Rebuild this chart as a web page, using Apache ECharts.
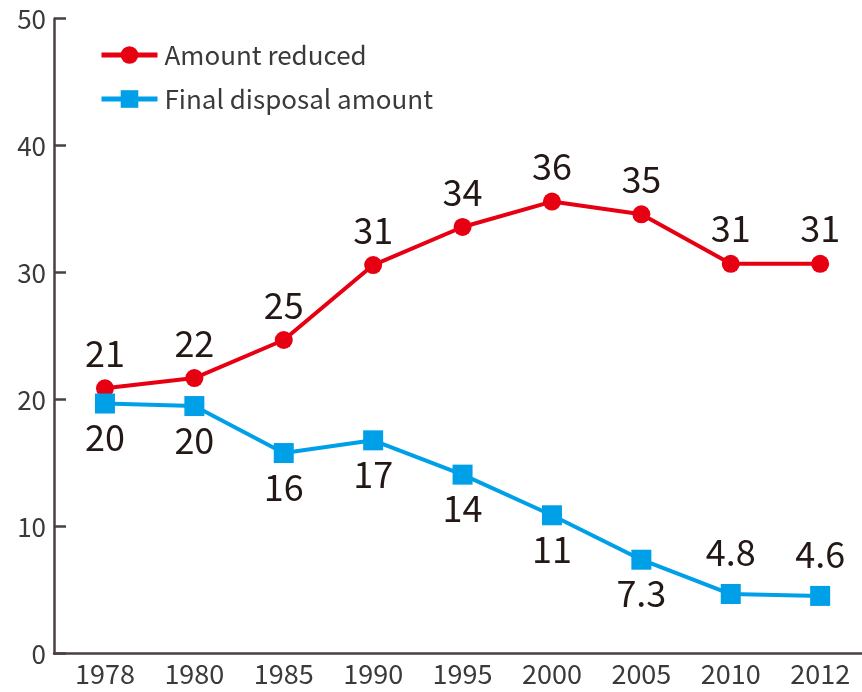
<!DOCTYPE html>
<html><head><meta charset="utf-8">
<script src="https://cdn.jsdelivr.net/npm/echarts@6/dist/echarts.min.js"></script>
<style>html,body{margin:0;padding:0;background:#fff}#c{width:862px;height:692px}</style>
</head><body><div id="c"></div>
<script>
var years = ['1978','1980','1985','1990','1995','2000','2005','2010','2012'];
var reducedValues = [20.9, 21.7, 24.7, 30.6, 33.6, 35.6, 34.6, 30.7, 30.7];
var reducedLabels = ['21','22','25','31','34','36','35','31','31'];
var disposalValues = [19.7, 19.5, 15.8, 16.8, 14.1, 10.9, 7.4, 4.7, 4.55];
var disposalLabels = ['20','20','16','17','14','11','7.3','4.8','4.6'];
var disposalLabelPos = ['bottom','bottom','bottom','bottom','bottom','bottom','bottom','top','top'];
var yTicks = [0, 10, 20, 30, 40, 50];

var FONT = '"Noto Sans CJK JP","Noto Sans",sans-serif';
var RED = '#e60012', BLUE = '#00a0e9', AXIS = '#4a4040';

var chart = echarts.init(document.getElementById('c'), null, {renderer: 'canvas'});
chart.setOption({
  animation: false,
  backgroundColor: '#fff',
  grid: {left: 54, right: 0, top: 18.7, bottom: 38.3, containLabel: false},
  legend: {
    orient: 'vertical', left: 94, top: 37, itemWidth: 56, itemHeight: 22, itemGap: 18,
    lineStyle: {width: 5},
    textStyle: {fontFamily: FONT, fontSize: 26, color: '#3a3a3a', padding: [0,0,0,2]},
    data: ['Amount reduced', 'Final disposal amount']
  },
  xAxis: {
    type: 'value', min: -0.570, max: 8.468,
    axisLine: {show: true, onZero: false, lineStyle: {color: AXIS, width: 2.5}},
    axisTick: {show: false}, splitLine: {show: false},
    axisLabel: {
      customValues: years.map(function(_, i){ return i; }),
      formatter: function(v){ return years[Math.round(v)]; },
      fontFamily: FONT, fontSize: 27, color: '#3a3a3a', margin: 7
    }
  },
  yAxis: {
    type: 'value', min: yTicks[0], max: yTicks[yTicks.length-1], interval: 10,
    axisLine: {show: true, onZero: false, lineStyle: {color: AXIS, width: 2.5}},
    axisTick: {show: true, inside: true, length: 12, lineStyle: {color: AXIS, width: 2.5}},
    splitLine: {show: false},
    axisLabel: {fontFamily: FONT, fontSize: 26, color: '#3a3a3a', margin: 8}
  },
  series: [
    {
      name: 'Amount reduced', type: 'line',
      data: reducedValues.map(function(v, i){ return [i, v]; }),
      symbol: 'circle', symbolSize: 18,
      lineStyle: {color: RED, width: 4}, itemStyle: {color: RED},
      label: {show: true, position: 'top', distance: 8,
        formatter: function(p){ return reducedLabels[p.dataIndex]; },
        fontFamily: FONT, fontSize: 36, color: '#231815'},
      z: 2
    },
    {
      name: 'Final disposal amount', type: 'line',
      data: disposalValues.map(function(v, i){
        var pos = disposalLabelPos[i];
        return {value: [i, v], label: {position: pos, distance: pos === 'top' ? 14 : 6}};
      }),
      symbol: 'rect', symbolSize: 20,
      lineStyle: {color: BLUE, width: 4}, itemStyle: {color: BLUE},
      label: {show: true,
        formatter: function(p){ return disposalLabels[p.dataIndex]; },
        fontFamily: FONT, fontSize: 36, color: '#231815'},
      z: 3
    }
  ]
});
</script></body></html>
